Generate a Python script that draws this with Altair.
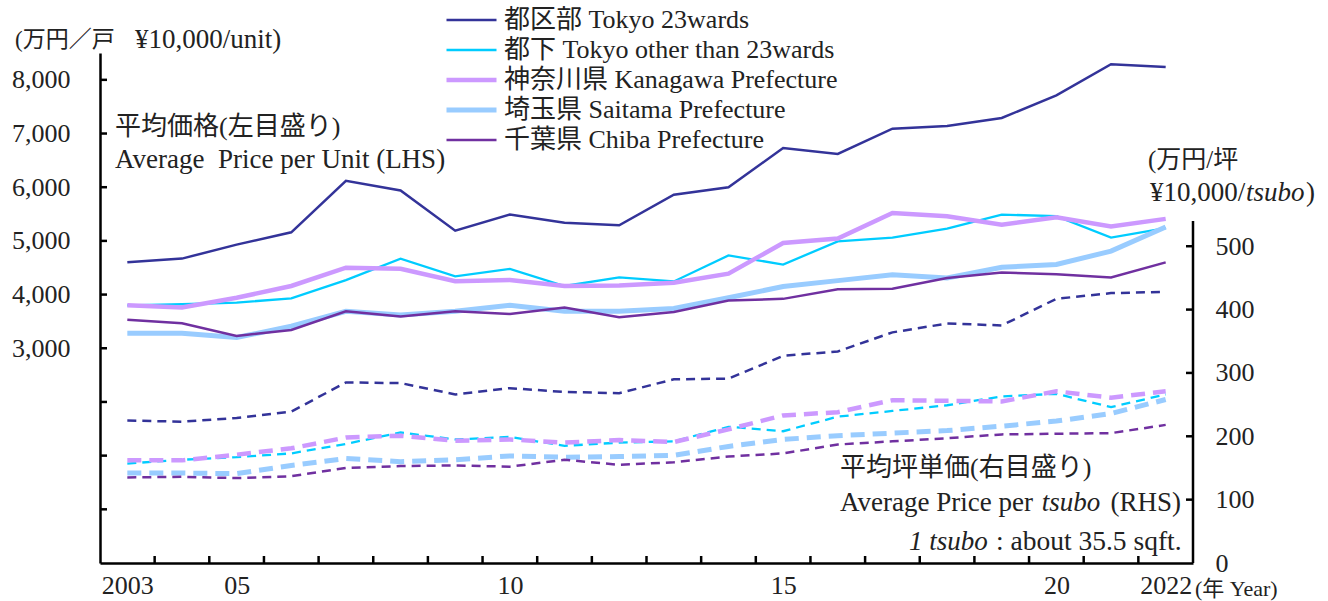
import altair as alt
import pandas as pd

# ---- data -------------------------------------------------------------
years = list(range(2003, 2023))

series_names = [
    "都区部 Tokyo 23wards",
    "都下 Tokyo other than 23wards",
    "神奈川県 Kanagawa Prefecture",
    "埼玉県 Saitama Prefecture",
    "千葉県 Chiba Prefecture",
]
series_colors = ["#333399", "#00CCFF", "#CC99FF", "#99CCFF", "#7030A0"]
line_widths = [2.5, 2.3, 4.5, 5, 2.5]
dash_patterns = [[9, 6], [9, 6], [14, 8], [14, 8], [9, 6]]

# average price per unit (10,000 yen / unit), left axis
unit_tokyo23 = [4600, 4670, 4930, 5160, 6120, 5940, 5190, 5490, 5340, 5290,
                5860, 6000, 6730, 6620, 7090, 7140, 7290, 7710, 8290, 8240]
unit_tokyo_other = [3800, 3820, 3850, 3930, 4270, 4670, 4340, 4480, 4160, 4320,
                    4245, 4730, 4560, 4990, 5060, 5230, 5490, 5460, 5060, 5240]
unit_kanagawa = [3800, 3760, 3940, 4160, 4500, 4480, 4250, 4270, 4160, 4170,
                 4220, 4390, 4960, 5045, 5520, 5460, 5300, 5440, 5270, 5410]
unit_saitama = [3280, 3280, 3200, 3410, 3690, 3620, 3690, 3800, 3690, 3690,
                3740, 3940, 4150, 4260, 4370, 4310, 4510, 4560, 4810, 5260]
unit_chiba = [3530, 3465, 3230, 3340, 3690, 3590, 3690, 3640, 3760, 3580,
              3675, 3890, 3920, 4100, 4110, 4310, 4410, 4380, 4320, 4600]

# average price per tsubo (10,000 yen / tsubo), right axis
tsubo_tokyo23 = [225, 223, 229, 239, 285, 284, 266, 276, 270, 268,
                 290, 291, 327, 334, 364, 378, 375, 417, 426, 428]
tsubo_tokyo_other = [157, 163, 167, 173, 188, 206, 195, 199, 185, 190,
                     192, 215, 208, 231, 240, 249, 263, 267, 246, 266]
tsubo_kanagawa = [162, 162, 171, 181, 198, 201, 193, 195, 190, 194,
                  191, 211, 233, 238, 257, 256, 255, 271, 261, 271]
tsubo_saitama = [142, 142, 141, 154, 165, 160, 163, 169, 167, 168,
                 170, 184, 195, 201, 205, 209, 216, 224, 236, 258]
tsubo_chiba = [135, 136, 134, 137, 150, 153, 154, 152, 163, 155,
               159, 168, 173, 187, 192, 197, 203, 204, 205, 218]

left_ticks = [0, 1000, 2000, 3000, 4000, 5000, 6000, 7000, 8000]
left_labels = [3000, 4000, 5000, 6000, 7000, 8000]
right_ticks = [100, 200, 300, 400, 500]
right_labels = [0, 100, 200, 300, 400, 500]
year_labels = [2003, 2005, 2010, 2015, 2020, 2022]
year_bounds = [y + 0.5 for y in range(2003, 2022)]


def long_table(columns):
    rows = []
    for name, values in zip(series_names, columns):
        for yr, v in zip(years, values):
            rows.append({"year": yr, "series": name, "value": v})
    return pd.DataFrame(rows)


unit_df = long_table([unit_tokyo23, unit_tokyo_other, unit_kanagawa,
                      unit_saitama, unit_chiba])
tsubo_df = long_table([tsubo_tokyo23, tsubo_tokyo_other, tsubo_kanagawa,
                       tsubo_saitama, tsubo_chiba])

# ---- styling ----------------------------------------------------------
FONT = "Liberation Serif, Noto Sans CJK JP"
TEXT = "#222222"
W, H = 1093, 510
OX, OY = 100, 53  # plot origin inside the canvas

x_scale = alt.Scale(domain=[2002.5, 2022.5], nice=False, zero=False)
left_scale = alt.Scale(domain=[-1000, 8500], nice=False, zero=False)
right_scale = alt.Scale(domain=[0, 805], nice=False, zero=False)
color_scale = alt.Scale(domain=series_names, range=series_colors)
width_scale = alt.Scale(type="ordinal", domain=series_names, range=line_widths)
dash_scale = alt.Scale(type="ordinal", domain=series_names, range=dash_patterns)

x_axis = alt.Axis(
    values=year_labels, format="d",
    labelExpr="(datum.value == 2003 || datum.value == 2022) ? toString(datum.value) : substring(toString(datum.value), 2)",
    ticks=False, grid=False, title=None, labelPadding=9,
    domainColor="black", domainWidth=2.5, labelFlush=False, labelOverlap=False,
)
left_axis = alt.Axis(values=left_labels, format=",d", ticks=False, grid=False,
                     title=None, labelPadding=30, domainColor="black",
                     domainWidth=2.5)
right_axis = alt.Axis(orient="right", values=right_labels, format="d",
                      ticks=False, grid=False, domain=False, title=None,
                      labelPadding=22)

legend_opts = dict(
    orient="none", legendX=344, legendY=-48, title=None, direction="vertical",
    symbolType="stroke", symbolSize=2500, clipHeight=30, rowPadding=0,
    labelFont=FONT, labelFontSize=26, labelColor=TEXT, labelOffset=5,
    labelLimit=600, padding=0,
)

# ---- price per unit: solid lines on the left scale ---------------------
unit_lines = alt.Chart(unit_df).mark_line().encode(
    x=alt.X("year:Q", scale=x_scale, axis=x_axis),
    y=alt.Y("value:Q", scale=left_scale, axis=left_axis),
    color=alt.Color("series:N", scale=color_scale, legend=alt.Legend(**legend_opts)),
    strokeWidth=alt.StrokeWidth("series:N", scale=width_scale,
                                legend=alt.Legend(**legend_opts)),
)

# ---- price per tsubo: dashed lines on the right scale ------------------
tsubo_lines = alt.Chart(tsubo_df).mark_line().encode(
    x=alt.X("year:Q", scale=x_scale, axis=x_axis),
    y=alt.Y("value:Q", scale=right_scale, axis=right_axis),
    color=alt.Color("series:N", scale=color_scale, legend=None),
    strokeWidth=alt.StrokeWidth("series:N", scale=width_scale, legend=None),
    strokeDash=alt.StrokeDash("series:N", scale=dash_scale, legend=None),
)

# inward tick marks and the short right-hand axis line
left_tick_marks = alt.Chart(pd.DataFrame({"value": left_ticks})).mark_rule(
    color="black", strokeWidth=2.5
).encode(
    y=alt.Y("value:Q", scale=left_scale, axis=None),
    x=alt.value(0), x2=alt.value(7),
)

right_tick_marks = alt.Chart(pd.DataFrame({"value": right_ticks})).mark_rule(
    color="black", strokeWidth=2.5
).encode(
    y=alt.Y("value:Q", scale=right_scale, axis=None),
    x=alt.value(W), x2=alt.value(W - 7),
)

right_domain = alt.Chart(pd.DataFrame({"value": [0], "top": [540]})).mark_rule(
    color="black", strokeWidth=2.5
).encode(
    y=alt.Y("value:Q", scale=right_scale, axis=None),
    y2="top:Q",
    x=alt.value(W),
)

year_tick_marks = alt.Chart(pd.DataFrame({"year": year_bounds})).mark_rule(
    color="black", strokeWidth=2.5
).encode(
    x=alt.X("year:Q", scale=x_scale, axis=x_axis),
    y=alt.value(H), y2=alt.value(H - 7),
)

anchor = pd.DataFrame({"k": [0]})


def note(text, x, y, size=27, align="left", italic=False):
    return alt.Chart(anchor).mark_text(
        text=text, font=FONT, fontSize=size, align=align, baseline="middle",
        fontStyle="italic" if italic else "normal", color=TEXT,
    ).encode(x=alt.value(x - OX), y=alt.value(y - OY))


notes = [
    note("(万円／戸", 15, 40, size=23),
    note("¥10,000/unit)", 135, 40),
    note("平均価格(左目盛り)", 115, 127, size=26),
    note("Average\u00a0 Price per Unit (LHS)", 115, 160),
    note("(万円/坪", 1148, 160, size=25),
    note("¥10,000/", 1150, 193),
    note("tsubo", 1246, 193, italic=True),
    note(")", 1306, 193),
    note("平均坪単価(右目盛り)", 840, 468, size=26),
    note("Average Price per", 840, 503),
    note("tsubo", 1071, 503, align="center", italic=True),
    note("(RHS)", 1181, 503, align="right"),
    note("1 tsubo", 909, 542, italic=True),
    note(": about 35.5 sqft.", 996, 542, size=27.5),
    note("(年 Year)", 1195, 589, size=22),
]

chart = alt.layer(
    unit_lines, tsubo_lines,
    left_tick_marks, right_tick_marks, right_domain, year_tick_marks,
    *notes,
).resolve_scale(
    y="independent", color="independent", strokeWidth="independent",
    strokeDash="independent",
).properties(
    width=W, height=H,
    padding={"left": OX, "top": OY, "right": 1328 - OX - W, "bottom": 601 - OY - H},
    autosize=alt.AutoSizeParams(type="none"),
    background="white",
).configure_view(
    stroke=None
).configure_axis(
    labelFont=FONT, labelFontSize=26, labelColor=TEXT,
)

chart.save("out.html", embed_options={"renderer": "svg", "actions": False})
